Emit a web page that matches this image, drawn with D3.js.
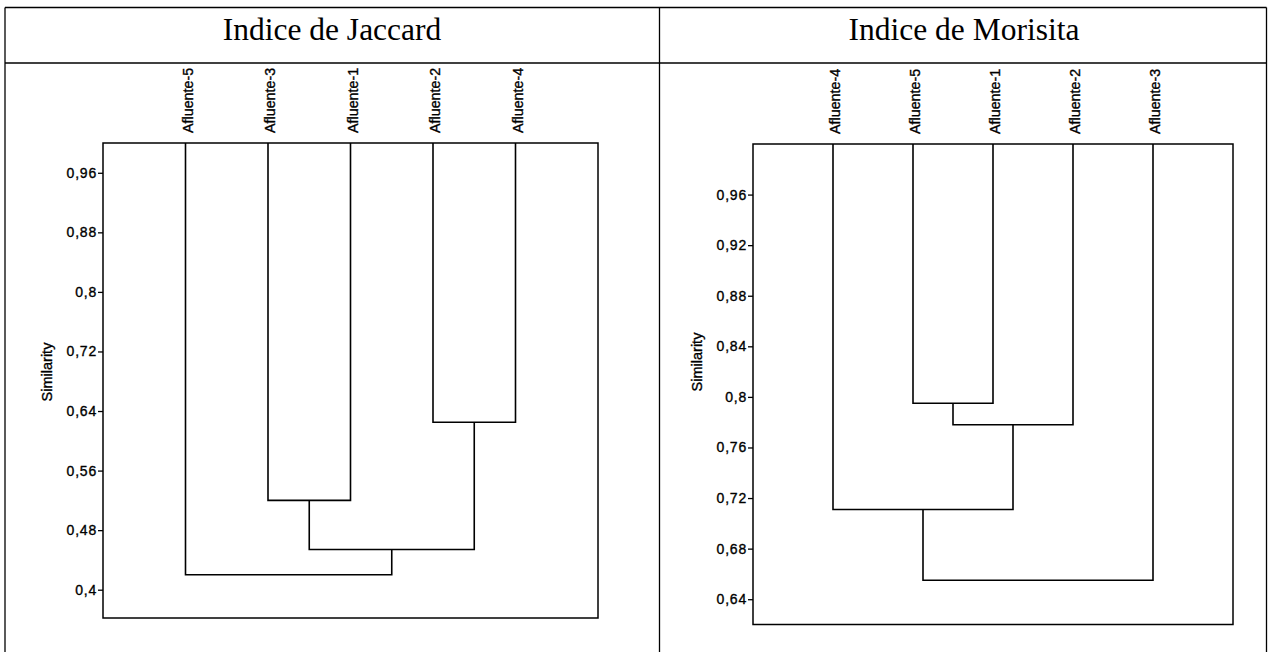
<!DOCTYPE html>
<html>
<head>
<meta charset="utf-8">
<script src="https://cdn.jsdelivr.net/npm/d3@7"></script>
<style>
  html, body { margin: 0; padding: 0; background: #fff; }
  svg { display: block; }
  .sans { font-family: "Liberation Sans", Arial, sans-serif; fill: #000; stroke: #000; stroke-width: 0.35px; }
</style>
</head>
<body>
<svg id="chart" width="1268" height="652"></svg>
<script>
// ---------- data ----------
const jaccardTitle = "Indice de Jaccard";
const jaccardLeaves = ["Afluente-5", "Afluente-3", "Afluente-1", "Afluente-2", "Afluente-4"];
// merges: [childA, childB, similarity]; merged clusters are named C1, C2, ...
const jaccardMerges = [
  ["Afluente-3", "Afluente-1", 0.52],
  ["Afluente-2", "Afluente-4", 0.625],
  ["C1", "C2", 0.454],
  ["Afluente-5", "C3", 0.42]
];
const jaccardTicks = [0.4, 0.48, 0.56, 0.64, 0.72, 0.8, 0.88, 0.96];
const jaccardDomain = [0.362, 1.0];

const morisitaTitle = "Indice de Morisita";
const morisitaLeaves = ["Afluente-4", "Afluente-5", "Afluente-1", "Afluente-2", "Afluente-3"];
const morisitaMerges = [
  ["Afluente-5", "Afluente-1", 0.795],
  ["C1", "Afluente-2", 0.778],
  ["Afluente-4", "C2", 0.711],
  ["C3", "Afluente-3", 0.655]
];
const morisitaTicks = [0.64, 0.68, 0.72, 0.76, 0.8, 0.84, 0.88, 0.92, 0.96];
const morisitaDomain = [0.62, 1.0];

const axisLabel = "Similarity";

// ---------- layout ----------
const W = 1268, H = 652;
const svg = d3.select("#chart");

// table frame
const frame = svg.append("g").attr("stroke", "#000").attr("stroke-width", 1.3).attr("fill", "none");
frame.append("line").attr("x1", 5).attr("x2", 1266.5).attr("y1", 7.5).attr("y2", 7.5);
frame.append("line").attr("x1", 5).attr("x2", 1266.5).attr("y1", 63).attr("y2", 63);
frame.append("line").attr("x1", 5).attr("x2", 5).attr("y1", 7.5).attr("y2", H);
frame.append("line").attr("x1", 659.5).attr("x2", 659.5).attr("y1", 7.5).attr("y2", H);
frame.append("line").attr("x1", 1266.5).attr("x2", 1266.5).attr("y1", 7.5).attr("y2", H);

function panel(cfg) {
  const g = svg.append("g");
  // title
  g.append("text")
    .attr("x", cfg.titleX).attr("y", 40)
    .attr("text-anchor", "middle")
    .attr("font-family", "'Liberation Serif', 'Times New Roman', serif")
    .attr("font-size", 31.5)
    .text(cfg.title);

  const x = d3.scalePoint().domain(cfg.leaves).range([cfg.left, cfg.right]).padding(1);
  const y = d3.scaleLinear().domain(cfg.domain).range([cfg.bottom, cfg.top]);

  // plot box
  g.append("rect")
    .attr("x", cfg.left).attr("y", cfg.top)
    .attr("width", cfg.right - cfg.left).attr("height", cfg.bottom - cfg.top)
    .attr("fill", "none").attr("stroke", "#000").attr("stroke-width", 1.5);

  // axis
  const axis = d3.axisLeft(y).tickValues(cfg.ticks).tickSize(5).tickPadding(1)
    .tickFormat(d => String(d).replace(".", ","));
  const ag = g.append("g").attr("transform", `translate(${cfg.left},0)`).call(axis);
  ag.select(".domain").remove();
  ag.selectAll(".tick line").attr("stroke", "#000").attr("stroke-width", 1.3);
  ag.selectAll(".tick text").attr("class", "sans").attr("font-size", 14).attr("letter-spacing", 0.8);

  // y label
  g.append("text")
    .attr("class", "sans")
    .attr("transform", `translate(${cfg.left - 51},${cfg.labelY}) rotate(-90)`)
    .attr("text-anchor", "middle")
    .attr("font-size", 14.5)
    .text(axisLabel);

  // leaf labels
  g.selectAll(".leaf").data(cfg.leaves).enter().append("text")
    .attr("class", "sans")
    .attr("transform", d => `translate(${x(d) + 7},${cfg.top - 10}) rotate(-90)`)
    .attr("text-anchor", "start")
    .attr("font-size", 14.3)
    .text(d => d);

  // dendrogram
  const nodes = {};
  cfg.leaves.forEach(l => { nodes[l] = { x: x(l), h: cfg.domain[1] }; });
  const lines = g.append("g").attr("stroke", "#000").attr("stroke-width", 1.6).attr("fill", "none");
  cfg.merges.forEach((m, i) => {
    const a = nodes[m[0]], b = nodes[m[1]], h = m[2];
    const path = d3.path();
    path.moveTo(a.x, y(a.h));
    path.lineTo(a.x, y(h));
    path.lineTo(b.x, y(h));
    path.lineTo(b.x, y(b.h));
    lines.append("path").attr("d", path.toString());
    nodes["C" + (i + 1)] = { x: (a.x + b.x) / 2, h: h };
  });
}

panel({
  title: jaccardTitle, titleX: 332, leaves: jaccardLeaves, merges: jaccardMerges,
  ticks: jaccardTicks, domain: jaccardDomain,
  left: 103, right: 598, top: 143, bottom: 618, labelY: 372
});
panel({
  title: morisitaTitle, titleX: 964, leaves: morisitaLeaves, merges: morisitaMerges,
  ticks: morisitaTicks, domain: morisitaDomain,
  left: 753, right: 1233, top: 144, bottom: 624.5, labelY: 362
});
</script>
</body>
</html>
